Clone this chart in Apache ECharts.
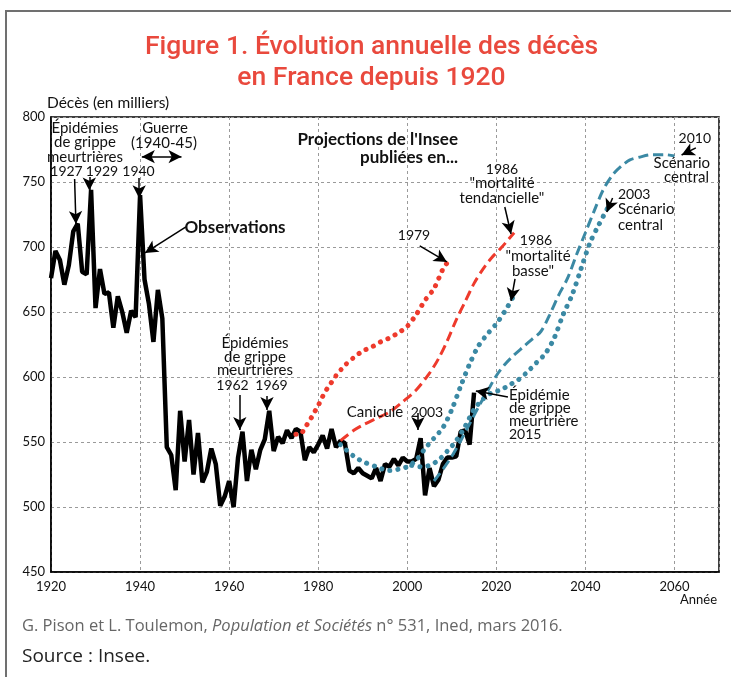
<!DOCTYPE html>
<html>
<head>
<meta charset="utf-8">
<title>Évolution annuelle des décès en France</title>
<script src="https://cdn.jsdelivr.net/npm/echarts@6/dist/echarts.min.js"></script>
<style>html,body{margin:0;background:#fff;}</style>
</head>
<body>
<div id="main" style="width:731px;height:677px;"></div>
<script>
// observed deaths (thousands), one value per year from 1920
var obsStart = 1920;
var obsValues = [
  676, 697, 690, 671, 686, 712, 718, 681, 679, 744,
  653, 683, 664, 665, 638, 662, 650, 634, 651, 646,
  740, 675, 656, 627, 667, 645, 546, 540, 513, 574,
  535, 567, 525, 557, 519, 527, 545, 533, 501, 508,
  520, 500, 538, 558, 520, 544, 529, 544, 552, 574,
  543, 554, 549, 559, 553, 560, 558, 536, 546, 542,
  548, 555, 545, 560, 546, 551, 549, 528, 526, 530,
  526, 524, 522, 530, 520, 533, 531, 537, 532, 538,
  535, 535, 537, 553, 509, 530, 516, 521, 533, 538,
  538, 539, 558, 559, 548, 588
];

// Insee projections [year, deaths]
var proj1979 = [[1975,556],[1976,556],[1977,561],[1978,566],[1979,572],[1980,578],[1981,585],[1982,591],[1983,596],[1984,601],[1986,609],[1988,615],[1990,620],[1992,623],[1994,627],[1996,630],[1998,634],[2000,639],[2002,648],[2004,659],[2006,668],[2008,683],[2009,688]];
var proj1986Tend = [[1985,551],[1988,559],[1990,563],[1993,568],[1996,573],[1999,581],[2002,590],[2005,603],[2007,614],[2009,628],[2011,644],[2013,658],[2015,672],[2017,683],[2019,692],[2021,699],[2024,711]];
var proj1986Basse = [[1985,548],[1988,539],[1990,535],[1993,531],[1996,528],[1998,529],[2000,531],[2002,536],[2004,545],[2006,553],[2008,561],[2010,575],[2012,593],[2014,610],[2016,624],[2018,633],[2020,641],[2022,651],[2024,663]];
var proj2003 = [[2001,532],[2003,531],[2005,532],[2007,536],[2009,543],[2011,551],[2013,562],[2015,575],[2017,583],[2019,588],[2021,590],[2023,594],[2025,598],[2027,604],[2029,611],[2031,618],[2033,630],[2035,648],[2037,663],[2039,683],[2041,703],[2043,717],[2045,730]];
var proj2010 = [[2006,520],[2008,529],[2010,539],[2012,551],[2014,564],[2016,577],[2018,589],[2020,601],[2022,610],[2024,617],[2026,623],[2028,629],[2030,635],[2032,648],[2034,663],[2036,676],[2038,694],[2040,711],[2042,728],[2044,744],[2046,755],[2048,762],[2050,767],[2052,769],[2055,771],[2058,771],[2060,770]];

// annotation arrows in data space: [x1, y1, x2 (tip), y2 (tip), doubleHeaded]
var arrows = [
  [1925.3, 752.3, 1925.6, 717.7, false],
  [1928.6, 753.8, 1928.6, 743.5, false],
  [1939.8, 753, 1939.8, 737.5, false],
  [1940.4, 769.5, 1949.3, 769.5, true],
  [1950.3, 715.4, 1941.1, 695.4, false],
  [1962.4, 586.2, 1962.4, 559.2, false],
  [1968.5, 585.4, 1968.5, 574.6, false],
  [2002.4, 572.3, 2002.4, 559.2, false],
  [2022.6, 584.6, 2015.4, 589.2, false],
  [2002.8, 700.8, 2008.9, 688.5, false],
  [2021.9, 730.8, 2023.3, 710.0, false],
  [2024.2, 675.4, 2023.3, 658.5, false],
  [2046.1, 737.7, 2044.8, 726.9, false],
  [2064.8, 776.2, 2061.6, 770.8, false]
];

// annotation texts: [text, x, y, align, bold]
var notes = [
  ['Épidémies', 85, 128, 'center'], ['de grippe', 85, 142.5, 'center'], ['meurtrières', 85, 157, 'center'],
  ['1927', 66.5, 171, 'center'], ['1929', 102, 171, 'center'], ['1940', 138.5, 171, 'center'],
  ['Guerre', 165, 128, 'center'], ['(1940-45)', 164, 143, 'center'],
  ['Observations', 235, 228, 'center', true],
  ['Projections de l\'Insee', 458, 140, 'right', true], ['publiées en...', 458, 158, 'right', true],
  ['1979', 414, 235, 'center'],
  ['1986', 502, 169, 'center'], ['"mortalité', 502, 183, 'center'], ['tendancielle"', 502, 198, 'center'],
  ['1986', 536, 240, 'center'], ['"mortalité', 538, 256, 'center'], ['basse"', 533, 271, 'center'],
  ['2003', 618, 194, 'left'], ['Scénario', 618, 209, 'left'], ['central', 618, 225, 'left'],
  ['2010', 711, 138, 'right'], ['Scénario', 710, 163, 'right'], ['central', 709, 177, 'right'],
  ['Épidémies', 255, 343, 'center'], ['de grippe', 255, 357.5, 'center'], ['meurtrières', 255, 370.5, 'center'],
  ['1962', 232.5, 385, 'center'], ['1969', 271.5, 385, 'center'],
  ['Canicule', 375, 412, 'center'], ['2003', 427, 412, 'center'],
  ['Épidémie', 509, 395, 'left'], ['de grippe', 509, 408.5, 'left'], ['meurtrière', 509, 421.5, 'left'], ['2015', 509, 434.5, 'left']
];

var RED = '#ee3a2c';
var TEAL = '#3b89a4';
var FONT = 'Lato';

var obsData = obsValues.map(function (v, i) { return [obsStart + i, v]; });

var dotted = function (color) {
  return { color: color, width: 5, type: [0.1, 8], cap: 'round' };
};
var dashed = function (color) {
  return { color: color, width: 3, type: [10, 5] };
};

var graphics = [{
  type: 'rect',
  shape: { x: 6, y: 11, width: 760, height: 720 },
  style: { fill: 'none', stroke: '#707070', lineWidth: 2 },
  silent: true
}, {
  type: 'text',
  x: 22, y: 626,
  style: {
    text: '{a|G. Pison et L. Toulemon, }{i|Population et Sociétés}{a| n° 531, Ined, mars 2016.}',
    verticalAlign: 'middle',
    rich: {
      a: { fontFamily: 'Open Sans', fontSize: 16.5, fill: '#666' },
      i: { fontFamily: 'Open Sans', fontSize: 16.5, fontStyle: 'italic', fill: '#666' }
    }
  }
}, {
  type: 'text',
  x: 22, y: 657,
  style: { text: 'Source : Insee.', font: '19px "Open Sans"', fill: '#222', verticalAlign: 'middle' }
}];

notes.forEach(function (n) {
  // numbers alone are set a little smaller, as in the original
  var size = n[4] ? 'bold 17px ' : (/^\d+$/.test(n[0]) ? '14px ' : '15px ');
  graphics.push({
    type: 'text',
    x: n[1], y: n[2],
    z: 50,
    style: {
      text: n[0],
      font: size + FONT,
      fill: '#111',
      align: n[3],
      verticalAlign: 'middle'
    }
  });
});

var myChart = echarts.init(document.getElementById('main'));

var option = {
  animation: false,
  backgroundColor: '#fff',
  title: {
    text: 'Figure 1. Évolution annuelle des décès\nen France depuis 1920',
    left: 366.5,
    top: 27,
    textAlign: 'center',
    textStyle: {
      fontFamily: 'Roboto',
      fontSize: 26.5,
      fontWeight: 500,
      color: '#e9493d',
      lineHeight: 31
    }
  },
  grid: {
    left: 51, right: 12, top: 117, bottom: 105,
    show: true,
    borderColor: '#000',
    borderWidth: 1.5
  },
  xAxis: {
    type: 'value',
    min: 1920, max: 2070, interval: 20,
    name: 'Année',
    nameLocation: 'end',
    nameGap: -2,
    nameTextStyle: { fontFamily: FONT, fontSize: 13, color: '#111', align: 'right', verticalAlign: 'top', padding: [21, 0, 0, 0] },
    axisLine: { lineStyle: { color: '#000', width: 1.5 } },
    axisTick: { show: false },
    axisLabel: {
      fontFamily: FONT, fontSize: 13, color: '#111', margin: 8,
      formatter: function (v) { return v === 2070 ? '' : String(v); }
    },
    splitLine: { show: true, lineStyle: { color: '#9a9a9a', width: 1, type: [3, 3] } }
  },
  yAxis: {
    type: 'value',
    min: 450, max: 800, interval: 50,
    name: 'Décès (en milliers)',
    nameLocation: 'end',
    nameGap: 5,
    nameTextStyle: { fontFamily: FONT, fontSize: 15.5, color: '#111', align: 'left', padding: [0, 0, 0, -4] },
    axisLine: { show: true, lineStyle: { color: '#000', width: 1.5 } },
    axisTick: { show: false },
    axisLabel: { fontFamily: FONT, fontSize: 13, color: '#111', margin: 6 },
    splitLine: { show: true, lineStyle: { color: '#9a9a9a', width: 1, type: [3, 3] } }
  },
  graphic: graphics,
  series: [{
    name: 'Observations',
    type: 'line',
    data: obsData,
    showSymbol: false,
    z: 3,
    lineStyle: { color: '#000', width: 4.5 },
    markLine: {
      silent: true,
      symbol: ['none', 'arrow'],
      symbolSize: [10, 13],
      label: { show: false },
      lineStyle: { color: '#000', width: 1.5, type: 'solid' },
      data: arrows.map(function (a) {
        return [
          { coord: [a[0], a[1]], symbol: a[4] ? 'arrow' : 'none' },
          { coord: [a[2], a[3]], symbol: 'arrow' }
        ];
      })
    }
  }, {
    name: '1979', type: 'line', data: proj1979, showSymbol: false, smooth: 0.3, z: 4,
    lineStyle: dotted(RED)
  }, {
    name: '1986 tendancielle', type: 'line', data: proj1986Tend, showSymbol: false, smooth: 0.3, z: 4,
    lineStyle: dashed(RED)
  }, {
    name: '1986 basse', type: 'line', data: proj1986Basse, showSymbol: false, smooth: 0.3, z: 4,
    lineStyle: dotted(TEAL)
  }, {
    name: '2003 central', type: 'line', data: proj2003, showSymbol: false, smooth: 0.3, z: 4,
    lineStyle: dotted(TEAL)
  }, {
    name: '2010 central', type: 'line', data: proj2010, showSymbol: false, smooth: 0.3, z: 4,
    lineStyle: dashed(TEAL)
  }]
};

myChart.setOption(option);
</script>
</body>
</html>
